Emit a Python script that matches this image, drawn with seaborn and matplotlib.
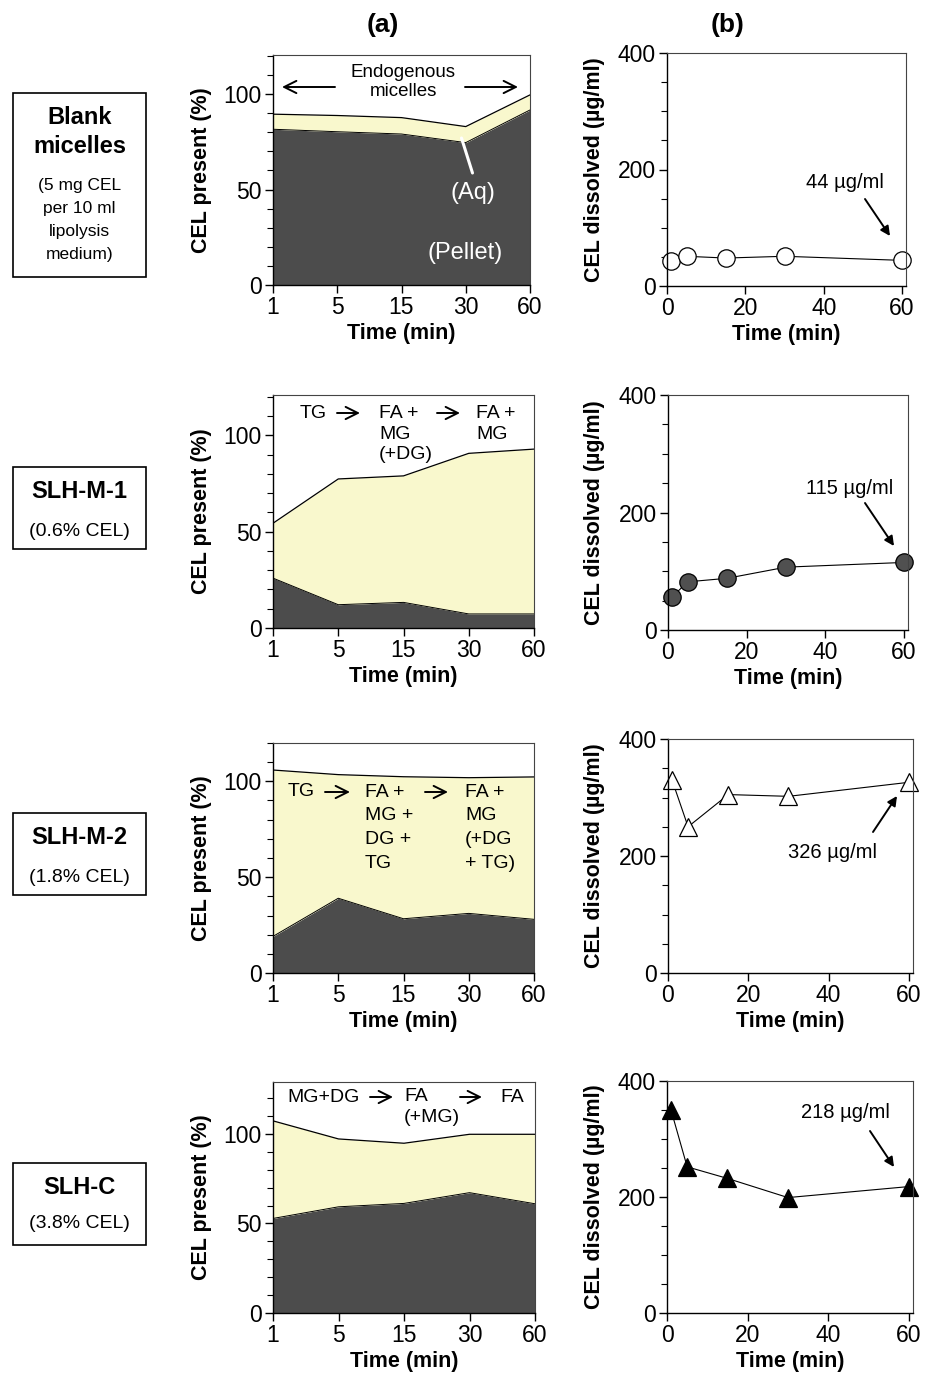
import numpy as np
import pandas as pd
import matplotlib
matplotlib.use("Agg")
import matplotlib.pyplot as plt
import seaborn as sns
from matplotlib.ticker import MultipleLocator
from matplotlib.patches import Rectangle, FancyArrowPatch
from matplotlib.lines import Line2D

# ---- data ----
time_labels = ["1", "5", "15", "30", "60"]
time_min = [1, 5, 15, 30, 60]

# panel (a): cumulative CEL present (%) -> pellet, pellet + aqueous phase
blank_pellet = [81.6, 80.3, 79.1, 74.6, 91.7]
blank_total = [89.5, 88.8, 87.7, 83.0, 99.6]
m1_pellet = [25.9, 12.1, 13.3, 7.3, 7.3]
m1_total = [54.4, 77.4, 79.0, 90.7, 92.9]
m2_pellet = [19.1, 39.0, 28.3, 31.1, 28.0]
m2_total = [105.9, 103.5, 102.4, 101.9, 102.3]
c_pellet = [52.8, 59.3, 61.2, 67.2, 61.0]
c_total = [107.3, 97.2, 94.8, 99.8, 99.8]

# panel (b): CEL dissolved (ug/ml)
blank_dissolved = [43, 51, 48, 51, 44]
m1_dissolved = [56, 82, 88, 107, 115]
m2_dissolved = [330, 250, 305, 302, 326]
c_dissolved = [350, 252, 232, 199, 218]

row_titles = ["Blank\nmicelles", "SLH-M-1", "SLH-M-2", "SLH-C"]
row_subtitles = ["(5 mg CEL\nper 10 ml\nlipolysis\nmedium)", "(0.6% CEL)", "(1.8% CEL)", "(3.8% CEL)"]

W, H = 931, 1378
PELLET = "#4c4c4c"
AQ = "#f9f8cd"

sns.set_style("ticks")
plt.rcParams['font.family'] = ['Liberation Sans', 'DejaVu Sans']
plt.rcParams['text.color'] = 'black'
plt.rcParams['axes.labelcolor'] = 'black'
plt.rcParams['xtick.color'] = 'black'
plt.rcParams['ytick.color'] = 'black'

fig = plt.figure(figsize=(W / 100, H / 100), dpi=100)


def px_axes(left, right, top, bottom):
    return fig.add_axes([left / W, 1 - bottom / H, (right - left) / W, (bottom - top) / H])


def fpos(x, y):
    return (x / W, 1 - y / H)


def style_axes(ax):
    for s in ["left", "bottom"]:
        ax.spines[s].set_linewidth(1.0)
        ax.spines[s].set_color("black")
    for s in ["top", "right"]:
        ax.spines[s].set_visible(True)
        ax.spines[s].set_linewidth(0.8)
        ax.spines[s].set_color("#444444")
    ax.tick_params(axis="both", which="major", direction="out", length=6, width=1,
                   labelsize=16.5, pad=2, color="black", labelcolor="black")
    ax.tick_params(axis="y", which="minor", direction="out", length=4, width=0.8)
    ax.tick_params(top=False, right=False, which="both")


def area_panel(pos, pellet, total, ymax):
    ax = px_axes(*pos)
    x = np.arange(len(time_labels))
    ax.fill_between(x, 0, pellet, color=PELLET, lw=0)
    ax.fill_between(x, pellet, total, color=AQ, lw=0)
    sns.lineplot(x=x, y=total, color="black", lw=0.9, ax=ax)
    sns.lineplot(x=x, y=pellet, color="black", lw=0.7, ax=ax)
    ax.set_xlim(0, 4)
    ax.set_ylim(0, ymax)
    ax.set_xticks(x)
    ax.set_xticklabels(time_labels)
    ax.set_yticks([0, 50, 100])
    ax.yaxis.set_minor_locator(MultipleLocator(10))
    style_axes(ax)
    ax.set_xlabel("Time (min)", fontsize=15.5, fontweight="bold", labelpad=3)
    ax.set_ylabel("CEL present (%)", fontsize=15.5, fontweight="bold")
    ax.yaxis.set_label_coords((212 - pos[0]) / (pos[1] - pos[0]), 0.5)
    return ax


def line_panel(pos, vals, marker, face):
    ax = px_axes(*pos)
    sns.lineplot(x=time_min, y=vals, color="black", lw=0.8, marker=marker, ms=12.5,
                 mfc=face, mec="black", mew=0.9, clip_on=False, ax=ax)
    ax.set_xlim(0, 61)
    ax.set_ylim(0, 400)
    ax.set_xticks([0, 20, 40, 60])
    ax.set_yticks([0, 200, 400])
    ax.yaxis.set_minor_locator(MultipleLocator(50))
    style_axes(ax)
    ax.set_xlabel("Time (min)", fontsize=15.5, fontweight="bold", labelpad=3)
    ax.set_ylabel("CEL dissolved (\u00b5g/ml)", fontsize=15.5, fontweight="bold")
    ax.yaxis.set_label_coords((605 - pos[0]) / (pos[1] - pos[0]), 0.5)
    return ax


def farrow(x0, y0, x1, y1, style="->", lw=1.4, ms=22):
    fig.add_artist(FancyArrowPatch(
        fpos(x0, y0), fpos(x1, y1), transform=fig.transFigure,
        arrowstyle=style, mutation_scale=ms, lw=lw, color="black",
        shrinkA=0, shrinkB=0))


def ftext(x, y, s, size=14, ha="left", va="center", **kw):
    fig.text(x / W, 1 - y / H, s, fontsize=size, ha=ha, va=va, **kw)


# ---- panel (a) ----
area_panel((273, 530, 55, 285), blank_pellet, blank_total, 120.5)
area_panel((273, 534, 395, 628), m1_pellet, m1_total, 121)
area_panel((273, 534, 743, 973), m2_pellet, m2_total, 120)
area_panel((273, 535, 1082, 1313), c_pellet, c_total, 129)

# ---- panel (b) ----
line_panel((667, 906, 53, 286), blank_dissolved, "o", "white")
line_panel((668, 908, 395, 630), m1_dissolved, "o", "#505050")
line_panel((668, 913, 739, 973), m2_dissolved, "^", "white")
line_panel((667, 913, 1081, 1313), c_dissolved, "^", "black")

# ---- annotations, row 1 ----
ftext(403, 82, "Endogenous\nmicelles", size=13.5, ha="center", linespacing=1.2)
farrow(335, 87, 282, 87)
farrow(465, 87, 518, 87)
fig.add_artist(Line2D([461.5 / W, 472.5 / W], [1 - 138 / H, 1 - 173 / H],
                      color="white", lw=2.2, transform=fig.transFigure))
ftext(473, 193, "(Aq)", size=17, ha="center", color="white")
ftext(465, 253, "(Pellet)", size=17, ha="center", color="white")
ftext(845, 183, "44 \u00b5g/ml", size=14.5, ha="center")
farrow(865, 199, 890, 236, style="-|>", lw=1.4, ms=14)

# ---- row 2 ----
ftext(300, 413, "TG", size=14)
farrow(337, 413, 360, 413)
ftext(379, 405, "FA +\nMG\n(+DG)", size=14, va="top", linespacing=1.28)
farrow(437, 413, 460, 413)
ftext(476, 405, "FA +\nMG", size=14, va="top", linespacing=1.28)
ftext(850, 488, "115 \u00b5g/ml", size=14.5, ha="center")
farrow(865, 503, 894, 546, style="-|>", lw=1.4, ms=14)

# ---- row 3 ----
ftext(288, 792, "TG", size=14)
farrow(325, 792, 350, 792)
ftext(365, 784, "FA +\nMG +\nDG +\nTG", size=14, va="top", linespacing=1.5)
farrow(425, 792, 448, 792)
ftext(465, 784, "FA +\nMG\n(+DG\n+ TG)", size=14, va="top", linespacing=1.5)
ftext(832, 852, "326 \u00b5g/ml", size=14.5, ha="center")
farrow(873, 832, 897, 796, style="-|>", lw=1.4, ms=14)

# ---- row 4 ----
ftext(287, 1097, "MG+DG", size=14)
farrow(370, 1097, 393, 1097)
ftext(404, 1088, "FA\n(+MG)", size=14, va="top", linespacing=1.28)
farrow(460, 1097, 482, 1097)
ftext(500, 1097, "FA", size=14)
ftext(845, 1113, "218 \u00b5g/ml", size=14.5, ha="center")
farrow(870, 1131, 894, 1167, style="-|>", lw=1.4, ms=14)

# ---- column headers ----
ftext(383, 25, "(a)", size=19, ha="center", fontweight="bold")
ftext(728, 25, "(b)", size=19, ha="center", fontweight="bold")

# ---- row label boxes ----
boxes = [(93, 277), (467, 549), (813, 895), (1163, 1245)]
title_y = [132, 492, 838, 1187]
sub_y = [220, 531, 877, 1224]
sub_size = [12.5, 14, 14, 14]
sub_space = [1.65, 1.2, 1.2, 1.2]
for (top, bot), title, sub, ty, sy, ss, sp in zip(boxes, row_titles, row_subtitles,
                                                  title_y, sub_y, sub_size, sub_space):
    fig.add_artist(Rectangle((13 / W, 1 - bot / H), 133 / W, (bot - top) / H,
                             transform=fig.transFigure, fill=False, ec="black", lw=1.2))
    ftext(79.5, ty, title, size=17, ha="center", fontweight="bold", linespacing=1.3)
    ftext(79.5, sy, sub, size=ss, ha="center", linespacing=sp)

plt.savefig("out.png", dpi=100)
